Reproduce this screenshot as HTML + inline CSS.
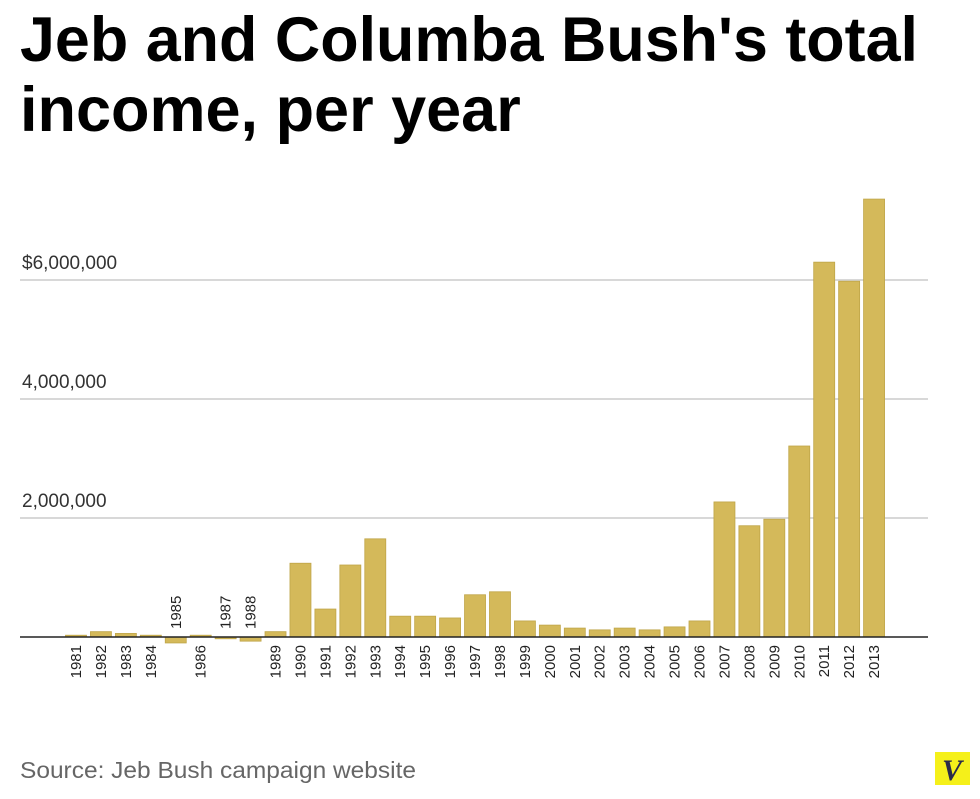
<!DOCTYPE html>
<html><head><meta charset="utf-8"><style>
body{margin:0;background:#fff;}
svg{display:block;font-family:"Liberation Sans",Arial,sans-serif;}
</style></head><body>
<svg id="chart" width="980" height="799">
<text x="20" y="61" font-size="63" font-weight="bold" fill="#000" textLength="898" lengthAdjust="spacingAndGlyphs">Jeb and Columba Bush's total</text>
<text x="20" y="131" font-size="63" font-weight="bold" fill="#000">income, per year</text>
<g id="grid"></g>
<g id="bars"></g>
<g id="labels"></g>
<text x="20" y="778" font-size="23" fill="#666" textLength="396" lengthAdjust="spacingAndGlyphs">Source: Jeb Bush campaign website</text>
<g>
<rect x="935" y="752" width="35" height="33" fill="#f5f01a"/>
<text x="952" y="780" font-size="30" font-weight="bold" font-style="italic" font-family="Liberation Serif,serif" fill="#2a2a4a" text-anchor="middle">V</text>
</g>
</svg>
<script>
const years=["1981","1982","1983","1984","1985","1986","1987","1988","1989","1990","1991","1992","1993","1994","1995","1996","1997","1998","1999","2000","2001","2002","2003","2004","2005","2006","2007","2008","2009","2010","2011","2012","2013"];
const incomeMillions=[0.03,0.09,0.06,0.03,-0.1,0.03,-0.03,-0.07,0.09,1.24,0.47,1.21,1.65,0.35,0.35,0.32,0.71,0.76,0.27,0.2,0.15,0.12,0.15,0.12,0.17,0.27,2.27,1.87,1.98,3.21,6.3,5.98,7.36];
const tickValues=[2,4,6];
const tickLabels=["2,000,000","4,000,000","$6,000,000"];
const NS="http://www.w3.org/2000/svg";
const y0=637, pxPerM=59.5, x0=76, step=24.94, bw=21;
const yS=v=>y0-v*pxPerM;
const xS=i=>x0+i*step;
function mk(t,a,p){const e=document.createElementNS(NS,t);for(const k in a)e.setAttribute(k,a[k]);p.appendChild(e);return e;}
const grid=document.getElementById('grid'),bars=document.getElementById('bars'),labels=document.getElementById('labels');
tickValues.forEach((v,i)=>{
  const l=mk('line',{x1:20,x2:928,y1:yS(v),y2:yS(v),stroke:'#ccc','stroke-width':1.5},grid);
  
  
  const t=mk('text',{x:22,y:yS(v)-11,'font-size':19,fill:'#333'},grid);
  t.textContent=tickLabels[i];
  
  
});
incomeMillions.forEach((v,i)=>{
  const cx=xS(i);
  const top=Math.min(yS(v),y0), h=Math.abs(yS(v)-y0);
  const r=mk('rect',{x:cx-bw/2,y:top,width:bw,height:Math.max(h,1),fill:'#d4b95a',stroke:'#bfa548','stroke-width':0.8},bars);
  
  
  let t;
  if(v<0){
    t=mk('text',{x:0,y:0,'font-size':15,fill:'#222','text-anchor':'start',transform:`translate(${cx+5},${top-8}) rotate(-90)`},labels);
  }else{
    t=mk('text',{x:0,y:0,'font-size':15,fill:'#222','text-anchor':'end',transform:`translate(${cx+5},${y0+8}) rotate(-90)`},labels);
  }
  t.textContent=years[i];
  
  
});
const ax=mk('line',{x1:20,x2:928,y1:y0,y2:y0,stroke:'#222','stroke-width':1.5},grid.parentNode);


</script>
</body></html>
